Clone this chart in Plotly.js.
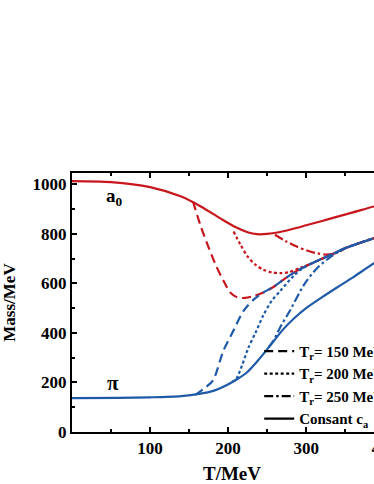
<!DOCTYPE html>
<html>
<head>
<meta charset="utf-8">
<script src="https://cdn.plot.ly/plotly-3.0.1.min.js"></script>
<style>
html,body{margin:0;padding:0;overflow:hidden;background:#fff;}
#chart{width:420px;height:484px;}
</style>
</head>
<body>
<div id="chart"></div>
<script>
// a0 meson, constant c_a
const a0ConstT = [0, 50, 100, 140, 165, 190, 210, 225, 237, 250, 265, 280, 300, 330, 360, 387, 410];
const a0ConstM = [1012, 1008, 988, 950, 910, 862, 826, 806, 798, 799, 806, 817, 834, 860, 886, 910, 928];
// a0, Tr = 150 MeV
const a0Tr150T = [155, 165, 175, 185, 195, 203, 212, 222, 232, 245, 258, 267, 288, 309, 331, 352, 387, 410];
const a0Tr150M = [930, 830, 745, 668, 605, 562, 543, 541, 548, 563, 585, 606, 650, 683, 714, 744, 782, 805];
// a0, Tr = 200 MeV
const a0Tr200T = [207, 216, 225, 235, 245, 256, 267, 278, 292, 309, 331, 352, 387, 410];
const a0Tr200M = [809, 755, 708, 675, 655, 644, 641, 645, 662, 683, 714, 744, 782, 805];
// a0, Tr = 250 MeV
const a0Tr250T = [260, 274, 288, 301, 314, 326, 335, 344, 352, 387, 410];
const a0Tr250M = [796, 770, 748, 732, 721, 716, 719, 730, 744, 782, 805];
// pion, constant c_a
const piConstT = [0, 60, 100, 140, 165, 180, 194, 210, 224, 240, 258, 270, 285, 300, 320, 340, 360, 387, 410];
const piConstM = [137, 138, 140, 145, 155, 165, 183, 210, 240, 295, 365, 412, 460, 500, 543, 584, 624, 681, 725];
// pion, Tr = 150 MeV
const piTr150T = [158, 164, 172, 181, 194, 207, 220, 233, 245, 258, 267, 288, 309, 331, 352, 387, 410];
const piTr150M = [150, 163, 182, 210, 328, 410, 490, 535, 563, 585, 606, 650, 683, 714, 744, 782, 805];
// pion, Tr = 200 MeV
const piTr200T = [205, 210, 218, 226, 235, 245, 256, 267, 284, 296, 309, 331, 352, 387, 410];
const piTr200M = [203, 212, 270, 340, 400, 470, 530, 570, 630, 662, 683, 714, 744, 782, 805];
// pion, Tr = 250 MeV
const piTr250T = [252, 258, 268, 279, 297, 314, 331, 342, 352, 387, 410];
const piTr250M = [342, 368, 430, 488, 593, 661, 706, 728, 744, 782, 805];

const legendNames = ['T<sub>r</sub>= 150 MeV', 'T<sub>r</sub>= 200 MeV', 'T<sub>r</sub>= 250 MeV', 'Consant c<sub>a</sub>'];
const xTickVals = [100, 200, 300, 400];
const yTickVals = [0, 200, 400, 600, 800, 1000];

const RED = '#C8161D';
const BLUE = '#1F5AA8';
const DASH = '9px,5px';
const DOT = '3px,2.5px';
const DASHDOT = '9px,3px,2.5px,3px';

function curve(x, y, color, dash) {
  return {x: x, y: y, type: 'scatter', mode: 'lines', showlegend: false, hoverinfo: 'skip',
          line: {color: color, width: 2.2, dash: dash, shape: 'spline', smoothing: 0.8}};
}
function legendItem(name, dash) {
  return {x: [null], y: [null], type: 'scatter', mode: 'lines', name: name, showlegend: true,
          line: {color: '#000', width: 2.2, dash: dash}};
}

const traces = [
  curve(a0ConstT, a0ConstM, RED, 'solid'),
  curve(a0Tr150T, a0Tr150M, RED, DASH),
  curve(a0Tr200T, a0Tr200M, RED, DOT),
  curve(a0Tr250T, a0Tr250M, RED, DASHDOT),
  curve(piConstT, piConstM, BLUE, 'solid'),
  curve(piTr150T, piTr150M, BLUE, DASH),
  curve(piTr200T, piTr200M, BLUE, DOT),
  curve(piTr250T, piTr250M, BLUE, DASHDOT),
  legendItem(legendNames[0], DASH),
  legendItem(legendNames[1], DOT),
  legendItem(legendNames[2], DASHDOT),
  legendItem(legendNames[3], 'solid')
];

const FONT = 'Liberation Serif, Times New Roman, serif';

const layout = {
  width: 420, height: 484,
  margin: {l: 72, r: 28, t: 173, b: 52},
  paper_bgcolor: '#fff', plot_bgcolor: '#fff',
  font: {family: FONT, color: '#000', size: 16, weight: 'bold'},
  showlegend: true,
  legend: {x: 0.585, y: 0.375, xanchor: 'left', yanchor: 'top', bgcolor: 'rgba(0,0,0,0)',
           font: {family: FONT, size: 15, color: '#000', weight: 'bold'}, tracegroupgap: 0},
  xaxis: {
    range: [0, 410], showgrid: false, zeroline: false,
    showline: true, linecolor: '#000', linewidth: 2, mirror: 'ticks',
    ticks: 'inside', ticklen: 5, tickwidth: 2, tickcolor: '#000',
    tickmode: 'array', tickvals: xTickVals, ticktext: xTickVals.map(String),
    tickfont: {family: FONT, size: 17, weight: 'bold', color: '#000'},
    minor: {dtick: 50, tick0: 0, ticks: 'inside', ticklen: 3, tickwidth: 2, tickcolor: '#000', showgrid: false},
    title: {text: 'T/MeV', font: {family: FONT, size: 19, weight: 'bold', color: '#000'}, standoff: 10}
  },
  yaxis: {
    range: [0, 1045], showgrid: false, zeroline: false,
    showline: true, linecolor: '#000', linewidth: 2, mirror: false,
    ticks: 'inside', ticklen: 5, tickwidth: 2, tickcolor: '#000',
    tickmode: 'array', tickvals: yTickVals, ticktext: yTickVals.map(String),
    tickfont: {family: FONT, size: 17, weight: 'bold', color: '#000'},
    minor: {dtick: 100, tick0: 0, ticks: 'inside', ticklen: 3, tickwidth: 2, tickcolor: '#000', showgrid: false},
    title: {text: 'Mass/MeV', font: {family: FONT, size: 17, weight: 'bold', color: '#000'}, standoff: 14}
  },
  annotations: [
    {x: 55, y: 950, xref: 'x', yref: 'y', text: 'a<sub>0</sub>', showarrow: false,
     font: {family: FONT, size: 19, weight: 'bold', color: '#000'}},
    {x: 52, y: 198, xref: 'x', yref: 'y', text: 'π', showarrow: false,
     font: {family: FONT, size: 21, weight: 'bold', color: '#000'}}
  ]
};

Plotly.newPlot('chart', traces, layout, {displayModeBar: false, staticPlot: true});
</script>
</body>
</html>
